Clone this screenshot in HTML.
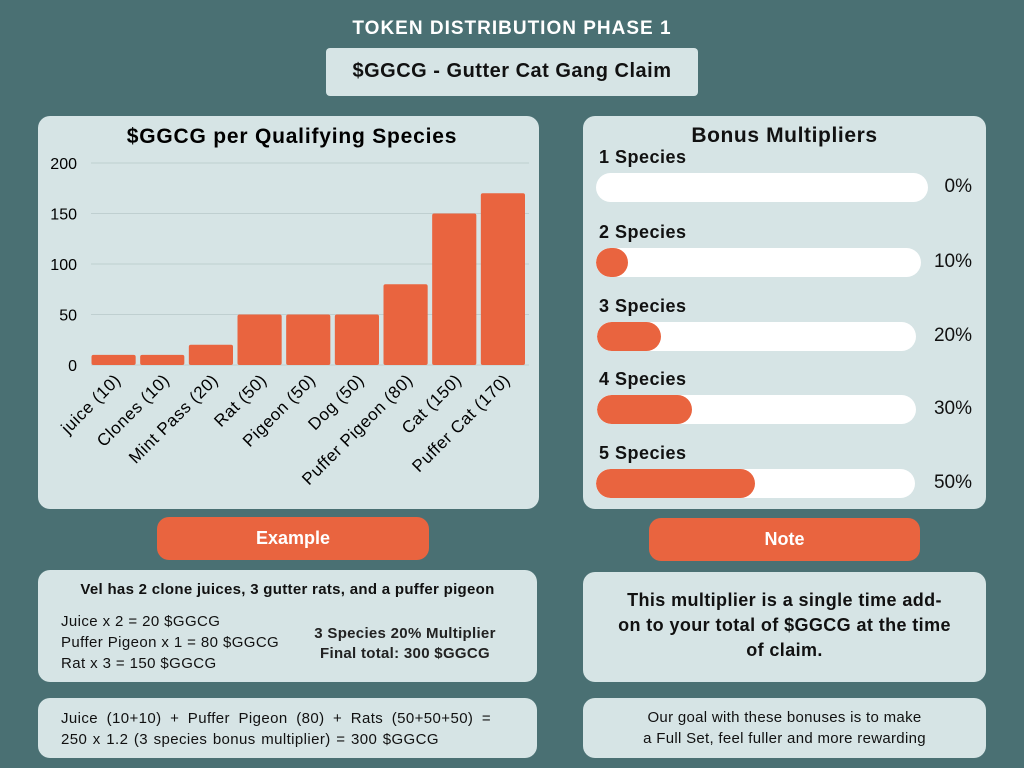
<!DOCTYPE html>
<html><head><meta charset="utf-8"><style>
*{margin:0;padding:0;box-sizing:border-box}
body{width:1024px;height:768px;background:#4a7073;position:relative;overflow:hidden;font-family:"Liberation Sans",sans-serif;color:#111}
.abs{position:absolute}
.panel{position:absolute;background:#d6e4e5;border-radius:12px}
.btn{position:absolute;background:#e9643f;border-radius:12px;color:#fff;font-weight:bold;font-size:18px;text-align:center;line-height:42px}
.lbl{position:absolute;font-weight:bold;font-size:18px;left:599px;letter-spacing:0.5px}
.track{position:absolute;background:#fff;border-radius:15px;overflow:hidden}
.fill{position:absolute;left:0;top:0;bottom:0;background:#e9643f;border-radius:15px}
.pct{position:absolute;right:52px;font-size:19px}
</style></head><body>
<div class="abs" style="left:0;width:1024px;top:18px;text-align:center;color:#fff;font-weight:bold;font-size:19px;letter-spacing:1px">TOKEN DISTRIBUTION PHASE 1</div>
<div class="abs" style="left:326px;top:48px;width:372px;height:48px;background:#d6e4e5;border-radius:4px;text-align:center;line-height:46px;font-weight:bold;font-size:20px;letter-spacing:0.5px">$GGCG - Gutter Cat Gang Claim</div>

<div class="panel" style="left:38px;top:116px;width:501px;height:393px"></div>
<svg class="abs" style="left:0;top:0" width="1024" height="768">
<text x="292" y="143" text-anchor="middle" font-size="21" font-weight="bold" font-family="Liberation Sans" letter-spacing="0.8">$GGCG per Qualifying Species</text>
<g id="grid"></g><g id="bars"></g><g id="xl"></g>
</svg>

<div class="panel" style="left:583px;top:116px;width:403px;height:393px"></div>
<div class="abs" style="left:583px;top:124px;width:403px;text-align:center;font-weight:bold;font-size:21px;letter-spacing:0.6px">Bonus Multipliers</div>
<div id="mult"></div>

<div class="btn" style="left:157px;top:517px;width:272px;height:43px">Example</div>
<div class="btn" style="left:649px;top:518px;width:271px;height:43px">Note</div>

<div class="panel" style="left:38px;top:570px;width:499px;height:112px"></div>
<div class="abs" style="left:38px;width:499px;top:581px;text-align:center;font-weight:bold;font-size:15px;letter-spacing:0.3px">Vel has 2 clone juices, 3 gutter rats, and a puffer pigeon</div>
<div class="abs" style="left:61px;top:611px;font-size:15px;line-height:21px;letter-spacing:0.4px">Juice x 2 = 20 $GGCG<br>Puffer Pigeon x 1 = 80 $GGCG<br>Rat x 3 = 150 $GGCG</div>
<div class="abs" style="left:300px;width:210px;top:624px;font-size:15px;line-height:20px;text-align:center;font-weight:bold;color:#222;letter-spacing:0.3px">3 Species 20% Multiplier<br>Final total: 300 $GGCG</div>

<div class="panel" style="left:38px;top:698px;width:499px;height:60px"></div>
<div class="abs" style="left:61px;top:708px;font-size:15px;line-height:21px;word-spacing:4px;letter-spacing:0.4px">Juice (10+10) + Puffer Pigeon (80) + Rats (50+50+50) =<br><span style="word-spacing:1px">250 x 1.2 (3 species bonus multiplier) = 300 $GGCG</span></div>

<div class="panel" style="left:583px;top:572px;width:403px;height:110px"></div>
<div class="abs" style="left:583px;width:403px;top:588px;text-align:center;font-weight:bold;font-size:18px;line-height:25px;letter-spacing:0.4px">This multiplier is a single time add-<br>on to your total of $GGCG at the time<br>of claim.</div>
<div class="panel" style="left:583px;top:698px;width:403px;height:60px"></div>
<div class="abs" style="left:583px;width:403px;top:707px;text-align:center;font-size:15px;line-height:21px;letter-spacing:0.3px">Our goal with these bonuses is to make<br>a Full Set, feel fuller and more rewarding</div>

<script>
const categories=["juice (10)","Clones (10)","Mint Pass (20)","Rat (50)","Pigeon (50)","Dog (50)","Puffer Pigeon (80)","Cat (150)","Puffer Cat (170)"];
const values=[10,10,20,50,50,50,80,150,170];
const yTicks=[0,50,100,150,200];
const multLabels=["1 Species","2 Species","3 Species","4 Species","5 Species"];
const multValues=[0,10,20,30,50];
const NS="http://www.w3.org/2000/svg";
const x0=91,x1=529,yb=365,yt=163,ymax=200;
const y=v=>yb-(v/ymax)*(yb-yt);
const step=(x1-x0)/categories.length;
const g=document.getElementById('grid'),b=document.getElementById('bars'),xl=document.getElementById('xl');
yTicks.forEach(t=>{
 const l=document.createElementNS(NS,'line');
 l.setAttribute('x1',x0);l.setAttribute('x2',x1);l.setAttribute('y1',y(t));l.setAttribute('y2',y(t));
 l.setAttribute('stroke','#bfcfd0');l.setAttribute('stroke-width','1');
 
 
 g.appendChild(l);
 const tx=document.createElementNS(NS,'text');
 tx.setAttribute('x',77);tx.setAttribute('y',y(t)+6);tx.setAttribute('text-anchor','end');
 tx.setAttribute('font-size','16');tx.setAttribute('font-family','Liberation Sans');
 tx.textContent=t;
 
 
 g.appendChild(tx);
});
values.forEach((v,i)=>{
 const r=document.createElementNS(NS,'rect');
 const bx=x0+i*step+0.5;
 r.setAttribute('x',bx);r.setAttribute('width',step-4.5);
 r.setAttribute('y',y(v));r.setAttribute('height',yb-y(v));
 r.setAttribute('rx',2);r.setAttribute('fill','#e9643f');
 
 
 b.appendChild(r);
 const t=document.createElementNS(NS,'text');
 const cx=bx+step/2+6,cy=381;
 t.setAttribute('x',cx);t.setAttribute('y',cy);t.setAttribute('text-anchor','end');
 t.setAttribute('font-size','17');t.setAttribute('font-family','Liberation Sans');
 t.setAttribute('letter-spacing','0.6');
 t.setAttribute('transform','rotate(-45 '+cx+' '+cy+')');
 t.textContent=categories[i];
 
 
 xl.appendChild(t);
});
const m=document.getElementById('mult');
const trackW=[332,325,319,319,319],trackX=[596,596,597,597,596],trackY=[173,248,322,395,469];
multLabels.forEach((lab,i)=>{
 const l=document.createElement('div');l.className='lbl';l.style.top=(trackY[i]-26)+'px';l.textContent=lab;
 
 
 m.appendChild(l);
 const tr=document.createElement('div');tr.className='track';
 tr.style.left=trackX[i]+'px';tr.style.top=trackY[i]+'px';tr.style.width=trackW[i]+'px';tr.style.height='29px';
 
 
 const f=document.createElement('div');f.className='fill';f.style.width=(multValues[i]/100*318)+'px';
 if(multValues[i]===0)f.style.display='none';
 
 
 tr.appendChild(f);m.appendChild(tr);
 const p=document.createElement('div');p.className='pct';p.style.top=(trackY[i]+3)+'px';p.textContent=multValues[i]+'%';
 
 
 m.appendChild(p);
});
</script>
</body></html>
